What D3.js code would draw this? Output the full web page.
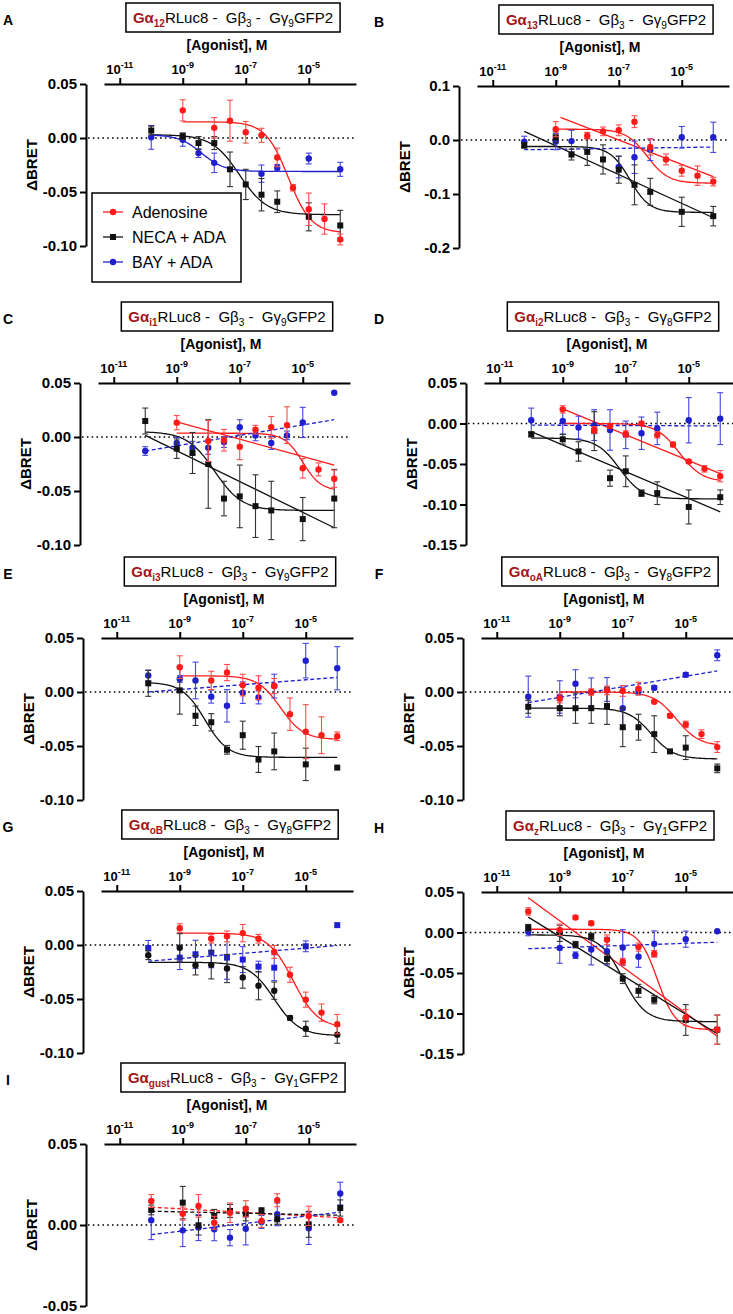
<!DOCTYPE html>
<html><head><meta charset="utf-8">
<script src="https://cdn.jsdelivr.net/npm/d3@7/dist/d3.min.js"></script>
<style>
body{margin:0;background:#fff}
text{font-family:Arial,"Liberation Sans",sans-serif}
</style>
</head><body>
<svg id="chart" width="733" height="1314"></svg>
<script>
// ---------- DATA ----------
// log10 of agonist concentration (M) for each data column
const logConc = [-10, -9, -8.5, -8, -7.5, -7, -6.5, -6, -5.5, -5, -4.5, -4];
const xTickExps = [-11, -9, -7, -5];
const seriesNames = ["Adenosine", "NECA + ADA", "BAY + ADA"];

// Panel A  (Gα12)
const adoA     = [null, 0.0256, null, 0.0094, 0.016, 0.0053, 0.0025, -0.018, -0.046, -0.066, -0.075, -0.094];
const adoA_err = [null, 0.0098, null, 0.0095, 0.019, 0.010, 0.0065, 0.0086, 0.003, 0.015, 0.014, 0.005];
const necaA     = [0.0069, 0.0016, -0.0047, -0.0047, -0.029, -0.043, -0.0525, -0.059, null, -0.073, null, -0.081];
const necaA_err = [0.004, 0.003, 0.006, 0.006, 0.016, 0.014, 0.015, 0.010, null, 0.013, null, 0.014];
const bayA     = [0.0006, -0.0016, -0.014, -0.023, null, null, -0.033, -0.0275, null, -0.019, null, -0.029];
const bayA_err = [0.011, 0.006, 0.004, 0.009, null, null, 0.008, 0.003, null, 0.005, null, 0.0065];
// fits: [series, type, ...params]  sig: top,bottom,logEC50,hill,xStart,xEnd ; lin/dash: x1,y1,x2,y2
const fitA = [["ado","sig",0.015,-0.088,-5.65,1.2,-9,-4],["neca","sig",0.003,-0.071,-7.2,1,-10,-4],["bay","sig",0.003,-0.031,-8.4,1.2,-10,-4]];

// Panel B  (Gα13)
const adoB     = [null, 0.02, null, 0.008, 0.016, 0.018, 0.034, -0.013, -0.036, -0.057, -0.066, -0.077];
const adoB_err = [null, 0.014, null, 0.006, 0.008, 0.010, 0.011, 0.015, 0.010, 0.010, 0.018, 0.008];
const necaB     = [-0.01, 0.005, -0.027, -0.022, -0.036, -0.055, -0.083, -0.096, null, -0.133, null, -0.141];
const necaB_err = [0.005, 0.010, 0.010, 0.025, 0.027, 0.025, 0.037, 0.025, null, 0.027, null, 0.018];
const bayB     = [-0.003, -0.003, -0.002, null, null, -0.05, -0.032, -0.018, null, 0.005, null, 0.005];
const bayB_err = [0.010, 0.015, 0.020, null, null, 0.020, 0.030, 0.020, null, 0.020, null, 0.028];
const fitB = [["ado","sig",0.02,-0.08,-6.1,1.3,-9,-4],["ado","lin",-8.85,0.042,-4,-0.068],["neca","sig",-0.012,-0.134,-6.65,1.4,-10,-4],["neca","lin",-10,0.016,-4,-0.144],["bay","dash",-10,-0.018,-4,-0.013]];

// Panel C  (Gαi1)
const adoC     = [null, 0.0133, null, -0.0037, -0.003, -0.009, 0.0068, 0.009, 0.011, -0.029, -0.030, -0.0386];
const adoC_err = [null, 0.0066, null, 0.019, 0.010, 0.012, 0.004, 0.010, 0.017, 0.009, 0.006, 0.008];
const necaC     = [0.0148, -0.0108, -0.0148, -0.025, -0.057, -0.055, -0.064, -0.068, null, -0.076, null, -0.057];
const necaC_err = [0.012, 0.009, 0.019, 0.041, 0.016, 0.029, 0.029, 0.027, null, 0.020, null, 0.027];
const bayC     = [-0.013, -0.0055, -0.01, -0.01, -0.0046, 0.009, 0.0015, -0.0055, 0.0015, 0.0135, null, 0.041];
const bayC_err = [0.004, 0.005, 0.006, 0.006, 0.005, 0.007, 0.005, 0.006, 0.004, 0.014, null, null];
const fitC = [["ado","sig",0.0035,-0.05,-5.0,1.5,-9,-4],["ado","lin",-9,0.014,-4,-0.026],["neca","sig",0.005,-0.068,-7.8,1,-10,-4],["neca","lin",-10,0.0015,-4,-0.084],["bay","dash",-10,-0.013,-4,0.016]];

// Panel D  (Gαi2)
const adoD     = [null, 0.0175, null, -0.008, -0.003, -0.013, 0.0, -0.014, -0.026, -0.047, -0.056, -0.065];
const adoD_err = [null, 0.0045, null, 0.004, 0.003, 0.004, 0.002, 0.004, 0.003, 0.002, 0.004, 0.007];
const necaD     = [-0.0134, -0.0195, -0.0345, -0.0094, -0.0675, -0.059, -0.086, -0.086, null, -0.103, null, -0.091];
const necaD_err = [0.003, 0.006, 0.012, 0.024, 0.010, 0.019, 0.004, 0.014, null, 0.021, null, 0.009];
const bayD     = [0.004, 0.003, -0.005, -0.002, -0.008, -0.014, -0.012, -0.006, null, 0.004, null, 0.006];
const bayD_err = [0.015, 0.016, 0.014, 0.019, 0.025, 0.017, 0.020, 0.020, null, 0.028, null, 0.032];
const fitD = [["ado","sig",0.0,-0.072,-5.3,1.2,-9,-4],["ado","lin",-9,0.018,-4,-0.062],["neca","sig",-0.018,-0.093,-7.2,1.2,-10,-4],["neca","lin",-10,-0.01,-4,-0.109],["bay","dash",-10,-0.002,-4,-0.003]];

// Panel E  (Gαi3)
const adoE     = [null, 0.023, null, 0.0107, 0.018, 0.0064, 0.004, 0.0055, -0.0205, -0.0367, -0.040, -0.041];
const adoE_err = [null, 0.0105, null, 0.0085, 0.0075, 0.010, 0.011, 0.007, 0.015, 0.025, 0.017, 0.004];
const necaE     = [0.008, 0.0015, -0.022, -0.028, -0.0535, -0.040, -0.0625, -0.055, null, -0.067, null, -0.070];
const necaE_err = [0.012, 0.022, 0.009, 0.008, 0.004, 0.013, 0.012, 0.017, null, 0.015, null, 0];
const bayE     = [0.0153, 0.012, 0.0107, -0.0043, -0.0128, -0.0006, -0.005, 0.0055, null, 0.029, null, 0.022];
const bayE_err = [0.005, 0.003, 0.017, 0.006, 0.015, 0.010, 0.006, 0.011, null, 0.016, null, 0.020];
const fitE = [["ado","sig",0.015,-0.044,-5.8,1.2,-9,-4],["neca","sig",0.009,-0.0605,-8.2,1.2,-10,-4],["bay","dash",-10,0.0,-4,0.0135]];

// Panel F  (GαoA)
const adoF     = [null, -0.006, null, 0.0, 0.0015, 0.001, 0.003, -0.009, -0.022, -0.030, -0.039, -0.051];
const adoF_err = [null, 0.004, null, 0.003, 0.004, 0.005, 0.006, 0.001, 0.002, 0.003, 0.004, 0.005];
const necaF     = [-0.0137, -0.015, -0.015, -0.015, -0.013, -0.0326, -0.0326, -0.039, -0.055, -0.0515, null, -0.0707];
const necaF_err = [0.006, 0.007, 0.014, 0.014, 0.017, 0.018, 0.012, 0.017, 0.001, 0.011, null, 0.004];
const bayF     = [-0.0043, -0.0046, 0.0076, 0.0, 0.0024, -0.015, 0.0009, 0.004, null, 0.016, null, 0.034];
const bayF_err = [0.019, 0.015, 0.013, 0.013, 0.011, 0.019, 0.003, 0.002, null, 0.002, null, 0.005];
const fitF = [["ado","sig",0.0,-0.05,-5.3,1.2,-9,-4],["neca","sig",-0.015,-0.062,-6.1,1.2,-10,-4],["bay","dash",-10,-0.0098,-4,0.0195]];

// Panel G  (GαoB)  — NECA drawn as circles, BAY as squares
const adoG     = [null, 0.0156, null, 0.0058, 0.008, 0.011, 0.0058, -0.0064, -0.0276, -0.0506, -0.0626, -0.0733];
const adoG_err = [null, 0.004, null, 0.004, 0.005, 0.008, 0.004, 0.006, 0.007, 0.007, 0.008, 0.009];
const necaG     = [-0.0095, -0.0025, -0.0187, -0.0184, -0.0218, -0.030, -0.0377, -0.0423, -0.0675, -0.0776, null, -0.083];
const necaG_err = [0.004, 0.013, 0.009, 0.013, 0.013, 0.010, 0.013, 0.008, 0.002, 0.007, null, 0.008];
const bayG     = [-0.0028, -0.0117, -0.0086, -0.007, -0.0117, -0.0135, -0.020, -0.021, null, -0.0012, null, 0.0184];
const bayG_err = [0.007, 0.011, 0.013, 0.014, 0.020, 0.012, 0.005, 0.012, null, 0.005, null, 0];
const fitG = [["ado","sig",0.011,-0.077,-5.4,1.1,-9,-4],["neca","sig",-0.016,-0.084,-6.0,1.1,-10,-4],["bay","dash",-10,-0.015,-4,-0.0005]];

// Panel H  (Gαz)
const adoH     = [0.026, 0.0033, 0.0185, 0.0115, -0.009, -0.036, -0.018, -0.0263, null, -0.105, null, -0.12];
const adoH_err = [0.0045, 0.007, 0.002, 0.0025, 0.006, 0.004, 0.005, 0.004, null, 0.010, null, 0.018];
const necaH     = [0.006, -0.001, -0.015, -0.005, -0.0325, -0.057, -0.072, -0.083, null, -0.108, null, -0.12];
const necaH_err = [0.004, 0.010, 0.004, 0.004, 0.006, 0.006, 0.008, 0.005, null, 0.019, null, 0.018];
const bayH     = [0.001, -0.019, -0.028, -0.021, -0.023, -0.0185, -0.030, -0.014, null, -0.0082, null, 0.0016];
const bayH_err = [0.005, 0.019, 0.004, 0.019, 0.017, 0.022, 0.013, 0.016, null, 0.010, null, 0];
const fitH = [["ado","sig",0.004,-0.12,-5.9,1.5,-10,-4],["ado","lin",-10,0.043,-4,-0.128],["neca","sig",-0.003,-0.11,-7.0,1.2,-10,-4],["neca","lin",-10,0.019,-4,-0.125],["bay","dash",-10,-0.020,-4,-0.012]];

// Panel I  (Gαgust)
const adoI     = [0.0148, 0.007, 0.0118, 0.0014, 0.0076, 0.010, 0.0025, 0.0153, null, 0.0056, null, 0.003];
const adoI_err = [0.004, 0.004, 0.007, 0.004, 0.006, 0.005, 0.004, 0.004, null, 0.006, null, 0.001];
const necaI     = [0.0093, 0.0138, -0.0002, 0.0056, 0.0087, 0.0066, 0.0087, 0.0035, null, 0.0004, null, 0.0105];
const necaI_err = [0.003, 0.010, 0.006, 0.004, 0.004, 0.004, 0.002, 0.003, null, 0.008, null, 0.005];
const bayI     = [0.003, -0.0033, -0.0016, -0.0027, -0.0078, -0.0023, 0.0019, 0.0066, null, -0.002, null, 0.0194];
const bayI_err = [0.012, 0.010, 0.008, 0.007, 0.005, 0.010, 0.004, 0.007, null, 0.010, null, 0.007];
const fitI = [["ado","dash",-10,0.011,-4,0.0045],["neca","dash",-10,0.0085,-4,0.006],["bay","dash",-10,-0.006,-4,0.008]];

// Titles: [Gα subscript, Gγ subscript]
const titleSubs = {A:["12","9"],B:["13","9"],C:["i1","9"],D:["i2","8"],E:["i3","9"],F:["oA","8"],G:["oB","8"],H:["z","1"],I:["gust","1"]};
const yDomains = {A:[-0.10,0.05],B:[-0.2,0.1],C:[-0.10,0.05],D:[-0.15,0.05],E:[-0.10,0.05],F:[-0.10,0.05],G:[-0.10,0.05],H:[-0.15,0.05],I:[-0.05,0.05]};
const yTicks = {A:[0.05,0,-0.05,-0.10],B:[0.1,0,-0.1,-0.2],C:[0.05,0,-0.05,-0.10],D:[0.05,0,-0.05,-0.10,-0.15],E:[0.05,0,-0.05,-0.10],F:[0.05,0,-0.05,-0.10],G:[0.05,0,-0.05,-0.10],H:[0.05,0,-0.05,-0.10,-0.15],I:[0.05,0,-0.05]};

// ---------- LAYOUT ----------
const panels = [
  {id:"A", x0:86,  y0:84,   col:0, ado:[adoA,adoA_err], neca:[necaA,necaA_err], bay:[bayA,bayA_err], fits:fitA, legend:true},
  {id:"B", x0:459, y0:86,   col:1, ado:[adoB,adoB_err], neca:[necaB,necaB_err], bay:[bayB,bayB_err], fits:fitB},
  {id:"C", x0:80,  y0:383,  col:0, ado:[adoC,adoC_err], neca:[necaC,necaC_err], bay:[bayC,bayC_err], fits:fitC},
  {id:"D", x0:466, y0:383,  col:1, ado:[adoD,adoD_err], neca:[necaD,necaD_err], bay:[bayD,bayD_err], fits:fitD},
  {id:"E", x0:83,  y0:638,  col:0, ado:[adoE,adoE_err], neca:[necaE,necaE_err], bay:[bayE,bayE_err], fits:fitE},
  {id:"F", x0:463, y0:638,  col:1, ado:[adoF,adoF_err], neca:[necaF,necaF_err], bay:[bayF,bayF_err], fits:fitF},
  {id:"G", x0:83,  y0:891,  col:0, ado:[adoG,adoG_err], neca:[necaG,necaG_err], bay:[bayG,bayG_err], fits:fitG, shapes:{neca:"circle",bay:"square"}},
  {id:"H", x0:463, y0:892,  col:1, ado:[adoH,adoH_err], neca:[necaH,necaH_err], bay:[bayH,bayH_err], fits:fitH},
  {id:"I", x0:86,  y0:1144, col:0, ado:[adoI,adoI_err], neca:[necaI,necaI_err], bay:[bayI,bayI_err], fits:fitI}
];
const PH = 162;
const colors = {ado:"#ff1a1a", neca:"#111111", bay:"#1f1fcf"};
const errColors = {ado:"#ff4d4d", neca:"#333333", bay:"#4545e0"};
const titleRed = "#a3161a";

const svg = d3.select("#chart");

function drawMarker(g, shape, cx, cy, color){
  if(shape==="square"){
    g.append("rect").attr("x",cx-3).attr("y",cy-3).attr("width",6).attr("height",6).attr("fill",color);
  } else {
    g.append("circle").attr("cx",cx).attr("cy",cy).attr("r",3.2).attr("fill",color);
  }
}

panels.forEach(p=>{
  const g = svg.append("g");
  const x = d3.scaleLog().domain([Math.pow(10,-11.5), Math.pow(10,-3.5)]).range([p.x0+18, p.x0+270]);
  const y = d3.scaleLinear().domain(yDomains[p.id]).range([p.y0+PH, p.y0]);
  const shapes = Object.assign({ado:"circle",neca:"square",bay:"circle"}, p.shapes||{});

  // panel letter
  g.append("text").attr("x", p.col===0?8:379).attr("y", p.y0-59)
    .attr("text-anchor","middle").attr("font-weight","bold").attr("font-size",14).text(p.id);

  // title box
  const subs = titleSubs[p.id];
  const cx = p.x0+147;
  const tt = g.append("text").attr("x",cx).attr("y",p.y0-61).attr("text-anchor","middle")
     .attr("font-size",15).style("white-space","pre");
  tt.append("tspan").attr("fill",titleRed).attr("font-weight","bold").text("G\u03b1");
  tt.append("tspan").attr("fill",titleRed).attr("font-weight","bold").attr("font-size",10).attr("dy",4).text(subs[0]);
  tt.append("tspan").attr("dy",-4).text("RLuc8 -  G\u03b2");
  tt.append("tspan").attr("font-size",10).attr("dy",4).text("3");
  tt.append("tspan").attr("dy",-4).text(" -  G\u03b3");
  tt.append("tspan").attr("font-size",10).attr("dy",4).text(subs[1]);
  tt.append("tspan").attr("dy",-4).text("GFP2");
  const bb = tt.node().getBBox();
  g.insert("rect","text").attr("x",bb.x-7).attr("y",p.y0-81).attr("width",bb.width+14).attr("height",29)
    .attr("fill","#fff").attr("stroke","#000").attr("stroke-width",1.5);

  // x axis title
  g.append("text").attr("x",p.x0+141).attr("y",p.y0-34).attr("text-anchor","middle")
    .attr("font-weight","bold").attr("font-size",14).text("[Agonist], M");

  // top x axis
  const xAxis = d3.axisTop(x).tickValues(xTickExps.map(e=>Math.pow(10,e))).tickSize(6).tickSizeOuter(0).tickFormat("");
  const xg = g.append("g").attr("transform",`translate(0,${p.y0})`).call(xAxis);
  xg.selectAll("path,line").attr("stroke","#000").attr("stroke-width",2);
  xTickExps.forEach(e=>{
    const t = g.append("text").attr("x",x(Math.pow(10,e))).attr("y",p.y0-10).attr("text-anchor","middle")
      .attr("font-weight","bold").attr("font-size",13);
    t.append("tspan").text("10");
    t.append("tspan").attr("font-size",9).attr("dy",-6).text(String(e));
  });

  // y axis
  const fmt = p.id==="B" ? d3.format(".1f") : d3.format(".2f");
  const yAxis = d3.axisLeft(y).tickValues(yTicks[p.id]).tickSize(6).tickSizeOuter(0).tickPadding(3)
     .tickFormat(d=>fmt(d).replace("\u2212","-"));
  const yg = g.append("g").attr("transform",`translate(${p.x0},0)`).call(yAxis);
  yg.selectAll("path,line").attr("stroke","#000").attr("stroke-width",2);
  yg.selectAll("text").attr("font-weight","bold").attr("font-size",15).attr("font-family","Arial, Liberation Sans, sans-serif").attr("fill","#000");

  g.append("text").attr("transform",`translate(${p.x0-49},${p.y0+PH/2}) rotate(-90)`).attr("text-anchor","middle")
    .attr("font-size",15).attr("font-weight","bold").text("\u0394BRET");

  // zero dotted line
  g.append("line").attr("x1",p.x0+2).attr("x2",p.x0+270).attr("y1",y(0)).attr("y2",y(0))
    .attr("stroke","#000").attr("stroke-width",1.6).attr("stroke-dasharray","1.6,3.2");

  // fits
  const lineGen = d3.line().x(d=>x(Math.pow(10,d[0]))).y(d=>y(d[1]));
  p.fits.forEach(f=>{
    const s=f[0], type=f[1];
    let pts;
    if(type==="sig"){
      const [top,bot,ec,h,xs,xe]=f.slice(2);
      pts = d3.range(0,121).map(i=>{const lx=xs+(xe-xs)*i/120; return [lx, bot+(top-bot)/(1+Math.pow(10,(lx-ec)*h))];});
    } else {
      const [x1,y1,x2,y2]=f.slice(2);
      pts=[[x1,y1],[x2,y2]];
    }
    g.append("path").attr("d",lineGen(pts)).attr("fill","none").attr("stroke",colors[s])
      .attr("stroke-width",1.3).attr("stroke-dasharray",type==="dash"?"4,2.5":null);
  });

  // data: error bars + markers  (draw order: bay, neca, ado)
  ["bay","neca","ado"].forEach(s=>{
    const [vals,errs]=p[s];
    vals.forEach((v,i)=>{
      if(v===null) return;
      const cxp = x(Math.pow(10,logConc[i]));
      const e = errs[i];
      if(e){
        const yt=y(v+e), yb=y(v-e);
        g.append("line").attr("x1",cxp).attr("x2",cxp).attr("y1",yt).attr("y2",yb).attr("stroke",errColors[s]).attr("stroke-width",1.1);
        [yt,yb].forEach(yy=>g.append("line").attr("x1",cxp-3).attr("x2",cxp+3).attr("y1",yy).attr("y2",yy).attr("stroke",errColors[s]).attr("stroke-width",1.1));
      }
      drawMarker(g, shapes[s], cxp, y(v), colors[s]);
    });
  });

  // legend
  if(p.legend){
    const lx=p.x0+6, ly=p.y0+109;
    const lg=g.append("g");
    lg.append("rect").attr("x",lx).attr("y",ly).attr("width",149).attr("height",89).attr("fill","#fff").attr("stroke","#000").attr("stroke-width",1.5);
    ["ado","neca","bay"].forEach((s,i)=>{
      const yy=ly+19+i*25;
      lg.append("line").attr("x1",lx+11).attr("x2",lx+31).attr("y1",yy).attr("y2",yy).attr("stroke",colors[s]).attr("stroke-width",1.3);
      drawMarker(lg, shapes[s], lx+21, yy, colors[s]);
      lg.append("text").attr("x",lx+40).attr("y",yy+5.5).attr("font-size",16).text(seriesNames[i]);
    });
  }
});
</script>
</body></html>
